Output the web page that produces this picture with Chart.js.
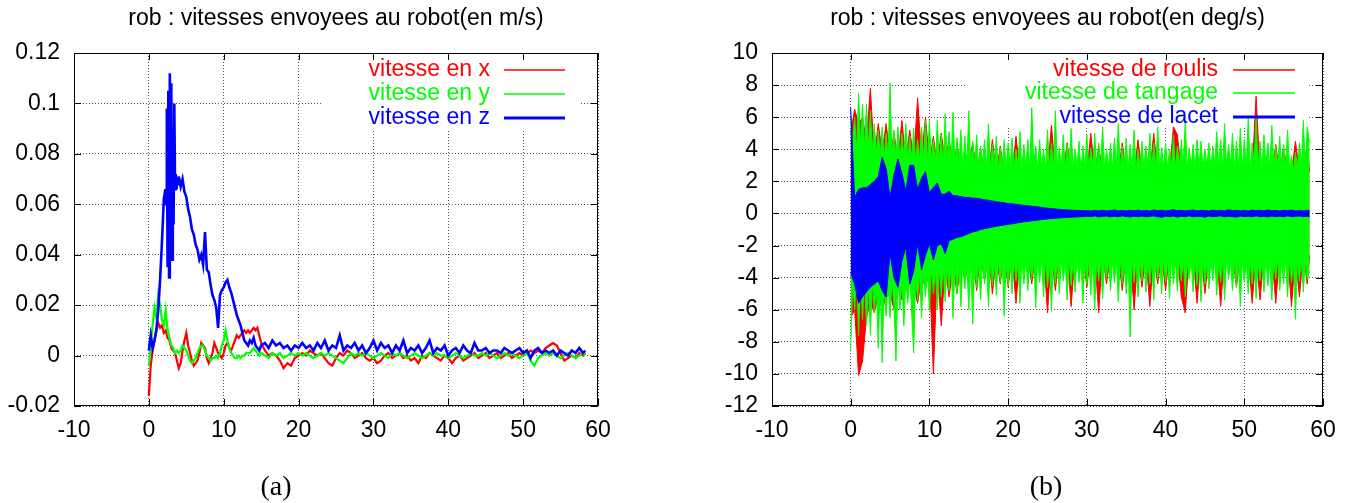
<!DOCTYPE html>
<html>
<head>
<meta charset="utf-8">
<script src="https://cdn.jsdelivr.net/npm/chart.js@4.4.0/dist/chart.umd.min.js"></script>
<style>
  body { margin: 0; background: #fff; width: 1358px; height: 503px; position: relative; overflow: hidden; }
  .box { position: absolute; top: 0; height: 503px; }
  #boxA { left: 0; width: 680px; }
  #boxB { left: 680px; width: 678px; }
  .cap { position: absolute; top: 472px; line-height: 28px; font-family: "Liberation Serif", "Times New Roman", serif; font-size: 28px; color: #000; transform: translateX(-50%); }
</style>
</head>
<body>
<div class="box" id="boxA"><canvas id="linear"></canvas></div>
<div class="box" id="boxB"><canvas id="angular"></canvas></div>
<div class="cap" style="left:276px">(a)</div>
<div class="cap" style="left:1046px">(b)</div>
<script>
// ---- (a) linear speeds, m/s ----
const tA = [
  0, 0.25, 0.5, 0.75, 1, 1.25, 1.5, 1.75, 2, 2.25,
  2.5, 2.75, 3, 3.25, 3.5, 3.75, 4, 4.25, 4.5, 4.75,
  5, 5.25, 5.5, 5.75, 6, 6.25, 6.5, 6.75, 7, 7.25,
  7.5, 7.75, 8, 8.25, 8.5, 8.75, 9, 9.25, 9.5, 9.75,
  10, 10.25, 10.5, 10.75, 11, 11.25, 11.5, 11.75, 12, 12.25,
  12.5, 12.75, 13, 13.25, 13.5, 13.75, 14, 14.25, 14.5, 14.75,
  15, 15.5, 16, 16.5, 17, 17.5, 18, 18.5, 19, 19.5,
  20, 20.5, 21, 21.5, 22, 22.5, 23, 23.5, 24, 24.5,
  25, 25.5, 26, 26.5, 27, 27.5, 28, 28.5, 29, 29.5,
  30, 30.5, 31, 31.5, 32, 32.5, 33, 33.5, 34, 34.5,
  35, 35.5, 36, 36.5, 37, 37.5, 38, 38.5, 39, 39.5,
  40, 40.5, 41, 41.5, 42, 42.5, 43, 43.5, 44, 44.5,
  45, 45.5, 46, 46.5, 47, 47.5, 48, 48.5, 49, 49.5,
  50, 50.5, 51, 51.5, 52, 52.5, 53, 53.5, 54, 54.5,
  55, 55.5, 56, 56.5, 57, 57.5, 58, 58.3
];
const vitesseX = [
  -.016, -.004, .002, .006, .010, .013, .011, .012, .009, .010,
  .007, .006, .003, .002, .001, -.002, -.005, -.003, .002, .006,
  .009, .004, .001, -.002, -.004, -.003, -.002, .001, .005, .004,
  .003, -.001, -.003, -.001, .001, .005, .003, .001, .000, -.001,
  .001, .004, .005, .003, .002, .004, .006, .008, .007, .008,
  .009, .010, .009, .010, .009, .010, .011, .010, .011, .008,
  .005, .002, .000, .001, .000, -.002, -.005, -.003, -.004, -.001,
  .000, .001, .000, .002, .001, .000, .001, -.001, -.003, -.004,
  -.001, .001, .000, .002, .001, -.001, .000, .001, -.001, -.002,
  -.001, -.003, -.002, .000, .001, -.001, .000, .001, -.001, .000,
  -.002, -.001, -.003, .000, -.001, .001, .000, -.001, -.002, .000,
  -.001, -.003, -.001, .000, -.002, -.001, .000, .001, -.001, .000,
  .001, -.001, .000, .001, -.001, .000, .001, -.001, .000, .001,
  .000, .001, .002, .001, .002, .001, .003, .004, .005, .004,
  .001, -.002, -.001, .000, -.001, .001, .000, .001
];
const vitesseY = [
  -.004, .004, .012, .019, .015, .024, .020, .014, .012, .018,
  .010, .007, .004, .003, .001, .002, .001, .002, .004, .003,
  .002, .000, -.002, -.003, -.002, -.001, .001, .003, .004, .004,
  .002, .000, -.001, -.002, -.001, -.001, .000, -.001, .001, .004,
  .006, .010, .006, .003, .001, .000, -.001, -.001, .000, -.001,
  .000, .000, .001, .001, .001, .002, .003, .002, .001, .000,
  .001, .000, -.001, .001, .000, .001, -.001, .000, .001, .000,
  .001, .000, .001, .000, -.001, .000, .001, .000, .001, .000,
  -.001, -.002, -.003, -.001, .001, .000, .001, .000, .001, .000,
  -.001, .000, .001, .000, -.001, .001, .000, .001, .000, -.001,
  .000, .001, .000, -.001, .000, .001, .000, .001, .000, .000,
  -.001, .000, .001, .000, -.001, .000, .001, .000, .000, .001,
  .000, .001, .000, -.001, .000, .001, .000, .001, .000, -.001,
  .000, .001, -.002, -.004, -.001, .000, .001, .000, .001, .000,
  -.001, .000, .001, .000, -.001, .000, .001, .000
];
// vertical speed is sampled more finely around its peak
const tZ = [
  0, 0.25, 0.5, 0.75, 1, 1.25, 1.5, 1.75,
  2, 2.1, 2.2, 2.3, 2.4, 2.5, 2.6, 2.7, 2.8, 2.9,
  3, 3.1, 3.2, 3.3, 3.4, 3.5, 3.6, 3.7, 3.8, 3.9,
  4, 4.25, 4.5, 4.75,
  5, 5.25, 5.5, 5.75, 6, 6.25, 6.5, 6.75, 7, 7.25,
  7.5, 7.75, 8, 8.25, 8.5, 8.75, 9, 9.25, 9.5, 9.75,
  10, 10.25, 10.5, 10.75, 11, 11.25, 11.5, 11.75, 12, 12.25,
  12.5, 12.75, 13, 13.25, 13.5, 13.75, 14, 14.25, 14.5, 14.75,
  15, 15.5, 16, 16.5, 17, 17.5, 18, 18.5, 19, 19.5,
  20, 20.5, 21, 21.5, 22, 22.5, 23, 23.5, 24, 24.5,
  25, 25.5, 26, 26.5, 27, 27.5, 28, 28.5, 29, 29.5,
  30, 30.5, 31, 31.5, 32, 32.5, 33, 33.5, 34, 34.5,
  35, 35.5, 36, 36.5, 37, 37.5, 38, 38.5, 39, 39.5,
  40, 40.5, 41, 41.5, 42, 42.5, 43, 43.5, 44, 44.5,
  45, 45.5, 46, 46.5, 47, 47.5, 48, 48.5, 49, 49.5,
  50, 50.5, 51, 51.5, 52, 52.5, 53, 53.5, 54, 54.5,
  55, 55.5, 56, 56.5, 57, 57.5, 58, 58.3
];
const vitesseZ = [
  .002, .008, .003, .006, .010, .018, .030, .045,
  .062, .064, .066, .060, .098, .035, .105, .031, .112, .045,
  .108, .038, .090, .052, .100, .066, .072, .066, .071, .068,
  .071, .067, .070, .065,
  .063, .058, .055, .050, .048, .044, .042, .038, .040, .036,
  .049, .034, .033, .028, .024, .022, .019, .011, .024, .026,
  .027, .029, .030, .027, .025, .022, .019, .016, .014, .012,
  .009, .006, .005, .004, .006, .005, .007, .004, .003, .002,
  .004, .005, .003, .006, .004, .005, .003, .004, .002, .004,
  .003, .005, .003, .004, .002, .005, .003, .006, .002, .004,
  .003, .008, .002, .004, .003, .005, .002, .004, .001, .003,
  .006, .002, .005, .003, .004, .001, .004, .002, .006, .001,
  .003, .002, .004, .001, .003, .006, .001, .003, .002, .004,
  .000, .002, .003, .001, .004, .002, .001, .005, .002, .002,
  .003, .001, .002, .002, .001, .003, .002, .001, .002, .003,
  .001, .002, -.001, .002, .003, .001, .002, .001, .002, .000,
  .002, .001, .000, .002, .001, .003, .001, .002
];

// ---- (b) angular speeds, deg/s : upper / lower envelopes of the dense traces ----
const tB = [
  0, 0.5, 1, 1.5, 2, 2.5, 3, 3.5, 4, 4.5,
  5, 5.5, 6, 6.5, 7, 7.5, 8, 8.5, 9, 9.5,
  10, 10.5, 11, 11.5, 12, 12.5, 13, 13.5, 14, 14.5,
  15, 15.5, 16, 16.5, 17, 17.5, 18, 18.5, 19, 19.5,
  20, 20.5, 21, 21.5, 22, 22.5, 23, 23.5, 24, 24.5,
  25, 25.5, 26, 26.5, 27, 27.5, 28, 28.5, 29, 29.5,
  30, 30.5, 31, 31.5, 32, 32.5, 33, 33.5, 34, 34.5,
  35, 35.5, 36, 36.5, 37, 37.5, 38, 38.5, 39, 39.5,
  40, 40.5, 41, 41.5, 42, 42.5, 43, 43.5, 44, 44.5,
  45, 45.5, 46, 46.5, 47, 47.5, 48, 48.5, 49, 49.5,
  50, 50.5, 51, 51.5, 52, 52.5, 53, 53.5, 54, 54.5,
  55, 55.5, 56, 56.5, 57, 57.5, 58, 58.3
];
// pitch trace is the densest one, read every quarter second
const tG = [
  0, 0.25, 0.5, 0.75, 1, 1.25, 1.5, 1.75, 2, 2.25, 2.5, 2.75, 3, 3.25, 3.5, 3.75, 4, 4.25, 4.5, 4.75,
  5, 5.25, 5.5, 5.75, 6, 6.25, 6.5, 6.75, 7, 7.25, 7.5, 7.75, 8, 8.25, 8.5, 8.75, 9, 9.25, 9.5, 9.75,
  10, 10.25, 10.5, 10.75, 11, 11.25, 11.5, 11.75, 12, 12.25, 12.5, 12.75, 13, 13.25, 13.5, 13.75, 14, 14.25, 14.5, 14.75,
  15, 15.25, 15.5, 15.75, 16, 16.25, 16.5, 16.75, 17, 17.25, 17.5, 17.75, 18, 18.25, 18.5, 18.75, 19, 19.25, 19.5, 19.75,
  20, 20.25, 20.5, 20.75, 21, 21.25, 21.5, 21.75, 22, 22.25, 22.5, 22.75, 23, 23.25, 23.5, 23.75, 24, 24.25, 24.5, 24.75,
  25, 25.25, 25.5, 25.75, 26, 26.25, 26.5, 26.75, 27, 27.25, 27.5, 27.75, 28, 28.25, 28.5, 28.75, 29, 29.25, 29.5, 29.75,
  30, 30.25, 30.5, 30.75, 31, 31.25, 31.5, 31.75, 32, 32.25, 32.5, 32.75, 33, 33.25, 33.5, 33.75, 34, 34.25, 34.5, 34.75,
  35, 35.25, 35.5, 35.75, 36, 36.25, 36.5, 36.75, 37, 37.25, 37.5, 37.75, 38, 38.25, 38.5, 38.75, 39, 39.25, 39.5, 39.75,
  40, 40.25, 40.5, 40.75, 41, 41.25, 41.5, 41.75, 42, 42.25, 42.5, 42.75, 43, 43.25, 43.5, 43.75, 44, 44.25, 44.5, 44.75,
  45, 45.25, 45.5, 45.75, 46, 46.25, 46.5, 46.75, 47, 47.25, 47.5, 47.75, 48, 48.25, 48.5, 48.75, 49, 49.25, 49.5, 49.75,
  50, 50.25, 50.5, 50.75, 51, 51.25, 51.5, 51.75, 52, 52.25, 52.5, 52.75, 53, 53.25, 53.5, 53.75, 54, 54.25, 54.5, 54.75,
  55, 55.25, 55.5, 55.75, 56, 56.25, 56.5, 56.75, 57, 57.25, 57.5, 57.75, 58, 58.3
];
const roulisMax = [
  5.0, 6.5, 5.6, 6.0, 4.5, 7.8, 3.5, 5.6, 3.8, 5.6,
  3.5, 5.0, 3.4, 5.8, 3.3, 5.2, 3.4, 7.2, 3.5, 6.0,
  3.2, 4.8, 3.0, 5.0, 3.2, 4.6, 3.0, 4.2, 3.0, 2.5,
  3.0, 4.4, 2.5, 4.0, 2.6, 2.5, 4.6, 2.5, 4.2, 2.4,
  2.6, 2.5, 4.8, 2.6, 2.5, 2.6, 2.5, 2.4, 2.6, 2.5,
  2.6, 5.5, 2.6, 2.5, 2.6, 4.4, 2.5, 2.4, 2.6, 2.5,
  2.6, 5.0, 2.5, 4.2, 2.6, 2.5, 2.6, 2.5, 2.6, 4.4,
  2.5, 2.6, 2.5, 4.6, 2.6, 2.5, 2.6, 5.0, 2.5, 2.6,
  2.5, 2.6, 5.4, 4.9, 2.6, 2.5, 2.6, 2.5, 2.6, 2.5,
  2.6, 3.6, 2.5, 2.6, 2.5, 2.6, 3.8, 2.5, 2.6, 2.5,
  2.6, 2.5, 2.6, 7.3, 2.5, 2.6, 2.5, 2.6, 4.3, 2.5,
  4.1, 2.6, 2.5, 4.5, 2.6, 2.5, 4.4, 2.6
];
const roulisMin = [
  -6.5, -6.0, -10.1, -9.2, -6.5, -5.5, -6.2, -5.0, -6.0, -5.2,
  -5.0, -6.0, -4.6, -5.4, -4.5, -4.4, -4.6, -5.6, -4.0, -4.6,
  -3.6, -10.0, -3.4, -7.0, -3.3, -5.2, -3.2, -5.0, -3.0, -4.2,
  -3.0, -2.6, -4.8, -2.6, -4.2, -2.5, -5.0, -2.6, -4.4, -2.5,
  -4.6, -2.6, -5.6, -2.6, -2.5, -2.6, -4.4, -2.5, -2.6, -2.5,
  -6.2, -2.6, -4.8, -2.5, -2.6, -2.5, -5.8, -2.6, -2.5, -2.6,
  -4.6, -2.5, -2.6, -6.2, -2.5, -4.4, -2.6, -2.5, -2.6, -4.8,
  -2.5, -2.6, -6.0, -2.5, -4.6, -2.6, -5.8, -2.5, -4.4, -2.6,
  -4.8, -2.5, -2.6, -2.5, -5.2, -6.2, -2.5, -2.6, -5.6, -2.5,
  -5.0, -2.6, -2.5, -2.6, -5.8, -2.5, -2.6, -2.5, -4.6, -2.6,
  -2.5, -2.6, -5.6, -2.5, -5.4, -2.6, -2.5, -2.6, -5.6, -2.5,
  -2.6, -2.5, -5.8, -2.6, -5.2, -2.5, -4.4, -2.6
];
const tangageMax = [
  5.8, 4.4, 6.0, 3.8, 7.5, 4.2, 6.8, 4.0, 6.8, 4.1, 6.4, 3.9, 5.6, 3.7, 5.2, 3.6, 5.4, 3.4, 5.0, 3.5,
  8.1, 3.5, 5.2, 3.4, 5.4, 3.3, 5.0, 3.5, 5.6, 3.3, 4.8, 3.4, 5.3, 3.2, 4.6, 3.3, 5.4, 3.4, 5.8, 3.2,
  5.8, 3.3, 4.6, 3.1, 5.8, 3.2, 4.9, 3.0, 6.2, 3.2, 5.1, 3.1, 6.3, 3.0, 4.7, 3.1, 5.2, 2.9, 4.8, 3.0,
  6.4, 2.9, 4.5, 3.0, 4.9, 2.8, 4.2, 3.0, 4.6, 2.9, 5.6, 2.8, 4.3, 3.0, 4.8, 2.7, 4.1, 2.9, 4.6, 2.8,
  4.4, 2.9, 4.7, 2.8, 4.0, 3.0, 5.1, 2.7, 4.3, 2.9, 4.6, 2.8, 6.6, 3.0, 4.2, 2.8, 4.6, 2.9, 4.0, 2.8,
  5.2, 2.9, 4.4, 2.7, 6.4, 2.9, 4.1, 3.0, 4.9, 2.8, 4.3, 2.9, 5.3, 2.8, 4.0, 2.9, 4.5, 2.7, 4.2, 2.9,
  4.9, 2.8, 4.1, 3.0, 5.0, 2.7, 4.4, 2.9, 5.4, 2.8, 4.0, 2.9, 4.4, 2.8, 4.7, 3.0, 5.6, 2.8, 4.2, 2.9,
  4.7, 2.8, 4.3, 2.9, 5.2, 2.7, 4.0, 2.9, 4.5, 2.8, 4.2, 3.0, 5.0, 2.8, 4.4, 2.9, 5.4, 2.8, 4.1, 2.9,
  4.4, 2.8, 4.0, 2.9, 4.9, 2.8, 4.2, 3.0, 4.6, 2.9, 5.8, 2.8, 4.1, 2.9, 4.3, 2.8, 4.6, 2.9, 4.5, 2.8,
  4.0, 2.9, 4.4, 2.8, 4.2, 3.0, 5.1, 2.9, 4.6, 2.8, 5.6, 2.9, 4.3, 3.0, 5.0, 2.8, 4.5, 2.9, 5.3, 2.8,
  4.6, 2.9, 5.9, 2.8, 4.4, 3.0, 6.0, 2.9, 4.5, 2.8, 4.9, 3.0, 4.4, 2.9, 5.5, 2.8, 4.2, 2.9, 4.8, 2.8,
  4.3, 2.9, 5.2, 2.8, 3.6, 2.7, 3.8, 2.9, 4.4, 3.0, 5.8, 2.9, 5.4, 4.4
];
const tangageMin = [
  -8.5, -4.2, -6.0, -3.6, -7.6, -4.0, -6.6, -3.9, -7.0, -4.3, -7.6, -4.2, -6.2, -4.4, -8.4, -4.2, -9.3, -4.5, -6.4, -4.4,
  -6.5, -4.1, -5.8, -9.2, -4.0, -6.0, -4.3, -7.0, -4.2, -5.6, -3.9, -6.2, -8.7, -3.8, -5.4, -3.7, -6.5, -3.6, -5.2, -3.6,
  -6.0, -3.4, -5.0, -3.5, -6.0, -3.3, -5.2, -3.2, -5.5, -3.3, -4.8, -3.2, -6.5, -3.1, -5.0, -3.2, -5.8, -3.0, -4.7, -3.1,
  -6.0, -3.0, -6.9, -3.1, -4.6, -3.0, -5.4, -2.9, -4.4, -3.0, -5.8, -2.9, -4.5, -3.0, -5.1, -2.8, -4.3, -2.9, -6.4, -3.0,
  -4.5, -2.9, -5.0, -2.8, -4.2, -3.0, -5.6, -2.9, -4.4, -2.8, -4.8, -3.0, -4.1, -2.9, -5.9, -2.8, -4.3, -2.9, -5.2, -2.8,
  -4.6, -3.0, -6.1, -2.9, -4.4, -2.8, -5.0, -2.9, -4.2, -3.0, -5.4, -2.8, -4.5, -2.9, -4.9, -2.8, -4.3, -3.0, -5.6, -2.9,
  -4.4, -2.8, -5.1, -2.9, -6.0, -2.8, -4.2, -3.0, -5.3, -2.9, -4.1, -2.8, -4.8, -3.0, -4.3, -2.9, -5.5, -2.8, -4.4, -3.0,
  -5.0, -2.9, -7.7, -2.8, -4.3, -3.0, -5.2, -2.9, -4.2, -2.8, -4.9, -3.0, -4.4, -2.9, -5.4, -2.8, -4.1, -2.9, -5.0, -2.8,
  -4.3, -2.9, -5.3, -2.8, -4.4, -3.0, -4.8, -2.9, -4.2, -2.8, -5.2, -3.0, -4.1, -2.9, -4.9, -2.8, -4.5, -2.9, -5.5, -2.8,
  -4.4, -3.0, -4.7, -2.9, -4.2, -2.8, -5.1, -3.0, -4.3, -2.9, -5.4, -2.8, -4.1, -3.0, -4.8, -2.9, -4.6, -2.8, -5.8, -2.9,
  -4.3, -3.0, -5.0, -2.9, -4.4, -2.8, -5.3, -3.0, -4.2, -2.9, -4.9, -2.8, -4.5, -3.0, -5.4, -2.9, -4.1, -2.8, -4.8, -3.0,
  -4.4, -2.9, -5.2, -2.8, -4.3, -3.0, -6.6, -2.9, -4.2, -2.8, -4.9, -3.0, -4.1, -3.6
];
const lacetMax = [
  6.6, 1.0, 1.5, 1.6, 1.6, 1.8, 2.0, 2.3, 3.5, 2.8,
  1.0, 2.4, 3.4, 2.5, 1.4, 3.0, 3.0, 1.5, 2.2, 2.6,
  1.3, 1.6, 1.9, 1.2, 1.2, 1.4, 1.1, 1.1, 1.05, 1.0,
  1.0, 0.95, 0.95, 0.9, 0.85, 0.82, 0.78, 0.73, 0.7, 0.66,
  0.62, 0.6, 0.57, 0.53, 0.5, 0.48, 0.45, 0.43, 0.4, 0.36,
  0.33, 0.3, 0.28, 0.26, 0.24, 0.22, 0.2, 0.2, 0.18, 0.18,
  0.17, 0.15, 0.19, 0.16, 0.2, 0.15, 0.18, 0.22, 0.16, 0.19,
  0.15, 0.2, 0.17, 0.21, 0.16, 0.19, 0.15, 0.22, 0.17, 0.2,
  0.16, 0.19, 0.24, 0.17, 0.2, 0.15, 0.19, 0.22, 0.16, 0.2,
  0.18, 0.15, 0.21, 0.17, 0.2, 0.16, 0.23, 0.18, 0.2, 0.16,
  0.19, 0.15, 0.21, 0.18, 0.2, 0.16, 0.22, 0.17, 0.19, 0.15,
  0.2, 0.18, 0.21, 0.16, 0.19, 0.17, 0.2, 0.16
];
const lacetMin = [
  -3.7, -4.4, -5.6, -5.2, -4.9, -4.6, -4.4, -4.2, -4.8, -5.2,
  -2.5, -4.0, -4.6, -3.0, -2.1, -4.4, -3.6, -1.9, -3.5, -2.6,
  -1.9, -2.9, -2.0, -1.9, -2.5, -1.7, -1.6, -1.5, -1.45, -1.35,
  -1.25, -1.15, -1.1, -1.0, -0.95, -0.9, -0.85, -0.8, -0.75, -0.72,
  -0.68, -0.65, -0.6, -0.56, -0.52, -0.5, -0.46, -0.43, -0.4, -0.37,
  -0.34, -0.32, -0.3, -0.28, -0.26, -0.25, -0.23, -0.22, -0.21, -0.2,
  -0.17, -0.2, -0.15, -0.22, -0.18, -0.16, -0.21, -0.17, -0.2, -0.15,
  -0.19, -0.22, -0.17, -0.2, -0.16, -0.21, -0.18, -0.15, -0.2, -0.24,
  -0.17, -0.19, -0.16, -0.22, -0.18, -0.2, -0.15, -0.21, -0.17, -0.19,
  -0.23, -0.16, -0.2, -0.18, -0.15, -0.21, -0.17, -0.2, -0.22, -0.16,
  -0.19, -0.17, -0.21, -0.15, -0.2, -0.18, -0.22, -0.16, -0.19, -0.17,
  -0.21, -0.15, -0.2, -0.18, -0.16, -0.2, -0.17, -0.19
];

const FONT = "'Liberation Sans', Arial, sans-serif";
const RED = '#ff0000', GREEN = '#00ff00', BLUE = '#0000ff';
const GRID = '#555';

function pts(t, v) {
    return t.map((x, i) => ({ x: x, y: v[i] }));
}

function axes(ymin, ymax, ystep, yWidth) {
    return {
        x: {
            type: 'linear', min: -10, max: 60,
            ticks: { stepSize: 10, color: '#000', font: { family: FONT, size: 23 }, padding: 11, maxRotation: 0, autoSkip: false },
            grid: { color: GRID, drawTicks: false },
            border: { display: false, dash: [1, 2] },
            afterFit: function (s) { s.height = 97; }
        },
        y: {
            min: ymin, max: ymax,
            ticks: {
                stepSize: ystep, color: '#000', font: { family: FONT, size: 23 }, padding: 14, autoSkip: false,
                callback: function (v) { return String(Math.round(v * 100) / 100); }
            },
            grid: { color: GRID, drawTicks: false },
            border: { display: false, dash: [1, 2] },
            afterFit: function (s) { s.width = yWidth; }
        }
    };
}

// gnuplot style: inward ticks, full frame, key with text left of the sample line
function gnuplotFrame(key) {
    return {
        id: 'gnuplotFrame',
        beforeDatasetsDraw(chart) {
            const ctx = chart.ctx, a = chart.chartArea;
            ctx.save();
            ctx.fillStyle = '#fff';
            ctx.fillRect(key.box[0], key.box[1], key.box[2] - key.box[0], key.box[3] - key.box[1]);
            ctx.strokeStyle = '#000';
            ctx.lineWidth = 1;
            ctx.beginPath();
            chart.scales.x.ticks.forEach(t => {
                const p = Math.round(chart.scales.x.getPixelForValue(t.value)) + 0.5;
                ctx.moveTo(p, a.top); ctx.lineTo(p, a.top + 7);
                ctx.moveTo(p, a.bottom); ctx.lineTo(p, a.bottom - 7);
            });
            chart.scales.y.ticks.forEach(t => {
                const p = Math.round(chart.scales.y.getPixelForValue(t.value)) + 0.5;
                ctx.moveTo(a.left, p); ctx.lineTo(a.left + 7, p);
                ctx.moveTo(a.right, p); ctx.lineTo(a.right - 7, p);
            });
            ctx.stroke();
            ctx.restore();
        },
        afterDatasetsDraw(chart) {
            const ctx = chart.ctx, a = chart.chartArea;
            ctx.save();
            ctx.strokeStyle = '#000';
            ctx.lineWidth = 1;
            ctx.strokeRect(Math.round(a.left) + 0.5, Math.round(a.top) + 0.5,
                Math.round(a.right) - Math.round(a.left) - 1, Math.round(a.bottom) - Math.round(a.top) - 1);
            ctx.font = '23px ' + FONT;
            ctx.textAlign = 'right';
            ctx.textBaseline = 'middle';
            key.items.forEach((it, i) => {
                const y = key.rows[i];
                ctx.fillStyle = it.color;
                ctx.fillText(it.label, key.textRight, y);
                ctx.strokeStyle = it.color;
                ctx.lineWidth = it.width;
                ctx.beginPath();
                ctx.moveTo(key.line[0], y);
                ctx.lineTo(key.line[1], y);
                ctx.stroke();
            });
            ctx.restore();
        }
    };
}

function titleOpts(text) {
    return {
        display: true, text: text, color: '#000', fullSize: false,
        font: { family: FONT, size: 23, weight: 'normal' },
        padding: { top: 5, bottom: 20.4 }
    };
}

let LinearChart = new Chart(document.getElementById('linear'), {
    type: 'line',
    data: {
        datasets: [
            { data: pts(tA, vitesseX), borderColor: RED, borderWidth: 2.2, order: 3 },
            { data: pts(tA, vitesseY), borderColor: GREEN, borderWidth: 2.2, order: 2 },
            { data: pts(tZ, vitesseZ), borderColor: BLUE, borderWidth: 2.6, order: 1 }
        ]
    },
    options: {
        responsive: true,
        maintainAspectRatio: false,
        animation: false,
        elements: { point: { radius: 0 }, line: { tension: 0, fill: false } },
        layout: { padding: { left: 0, right: 82, top: 0, bottom: 0 } },
        plugins: {
            legend: { display: false },
            tooltip: { enabled: false },
            title: titleOpts('rob : vitesses envoyees au robot(en m/s)')
        },
        scales: axes(-0.02, 0.12, 0.02, 74)
    },
    plugins: [gnuplotFrame({
        box: [322, 54, 580, 131],
        textRight: 490, line: [504, 565], rows: [70, 94, 118],
        items: [
            { label: 'vitesse en x', color: RED, width: 1.5 },
            { label: 'vitesse en y', color: GREEN, width: 1.5 },
            { label: 'vitesse en z', color: BLUE, width: 3 }
        ]
    })]
});

let AngularChart = new Chart(document.getElementById('angular'), {
    type: 'line',
    data: {
        datasets: [
            { data: pts(tB, lacetMax), borderColor: BLUE, backgroundColor: BLUE, borderWidth: 1, fill: 1, order: 1 },
            { data: pts(tB, lacetMin), borderColor: BLUE, borderWidth: 1, fill: false, order: 1 },
            { data: pts(tG, tangageMax), borderColor: GREEN, backgroundColor: GREEN, borderWidth: 1, fill: 3, order: 2 },
            { data: pts(tG, tangageMin), borderColor: GREEN, borderWidth: 1, fill: false, order: 2 },
            { data: pts(tB, roulisMax), borderColor: RED, backgroundColor: RED, borderWidth: 1, fill: 5, order: 3 },
            { data: pts(tB, roulisMin), borderColor: RED, borderWidth: 1, fill: false, order: 3 }
        ]
    },
    options: {
        responsive: true,
        maintainAspectRatio: false,
        animation: false,
        elements: { point: { radius: 0 }, line: { tension: 0 } },
        layout: { padding: { left: 0, right: 35, top: 0, bottom: 0 } },
        plugins: {
            legend: { display: false },
            tooltip: { enabled: false },
            title: titleOpts('rob : vitesses envoyees au robot(en deg/s)')
        },
        scales: axes(-12, 10, 2, 92)
    },
    plugins: [gnuplotFrame({
        box: [286, 54, 627, 128],
        textRight: 538, line: [553, 615], rows: [70, 93, 117],
        items: [
            { label: 'vitesse de roulis', color: RED, width: 1.5 },
            { label: 'vitesse de tangage', color: GREEN, width: 1.5 },
            { label: 'vitesse de lacet', color: BLUE, width: 3 }
        ]
    })]
});
</script>
</body>
</html>
